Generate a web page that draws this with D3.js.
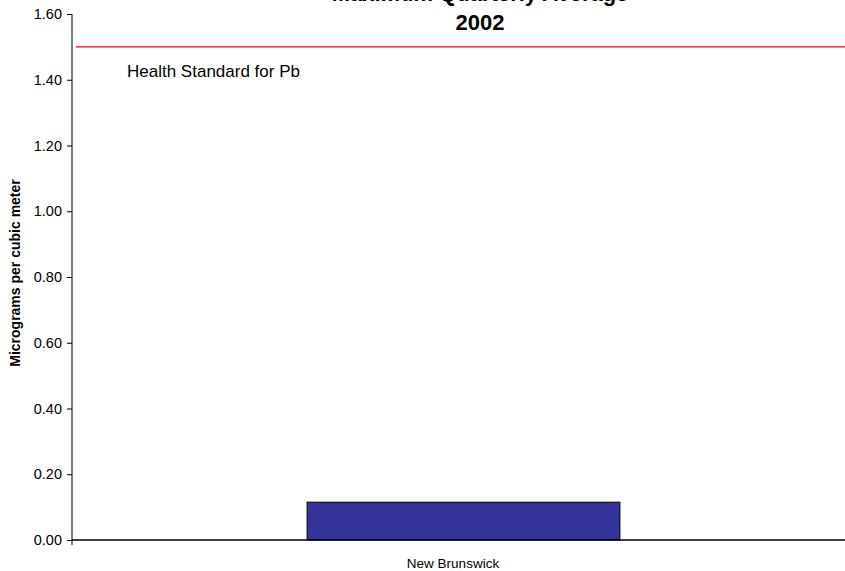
<!DOCTYPE html>
<html><head><meta charset="utf-8">
<script src="https://cdn.jsdelivr.net/npm/d3@7"></script>
<style>body{margin:0;background:#fff}svg{display:block}text{font-family:"Liberation Sans",Arial,sans-serif}</style>
</head><body><svg id="c" width="845" height="571"></svg>
<script>
const categories = ["New Brunswick"];
const values = [0.115];
const standardValue = 1.5;
const yTicks = [0,0.2,0.4,0.6,0.8,1.0,1.2,1.4,1.6];

const svg = d3.select("#c");
const m = {left:72, right:854, top:14, bottom:540};
const x = d3.scaleBand().domain(categories).range([m.left, m.right]).paddingInner(0.6).paddingOuter(0.3);
const y = d3.scaleLinear().domain([0,1.6]).range([m.bottom, m.top]);

// bar
svg.selectAll("rect.bar").data(values).enter().append("rect")
  .attr("x",(d,i)=>x(categories[i])+0.5).attr("width",x.bandwidth())
  .attr("y",d=>y(d)).attr("height",d=>y(0)-y(d))
  .attr("fill","#333399").attr("stroke","#000").attr("stroke-width",1);

// standard line
svg.append("line").attr("x1",76).attr("x2",845)
  .attr("y1",y(standardValue)).attr("y2",y(standardValue))
  .attr("stroke","#ff0000").attr("stroke-width",1.2);
svg.append("text").attr("x",127).attr("y",77).attr("font-size",17).text("Health Standard for Pb");

// y axis
const ya = svg.append("g").attr("transform",`translate(${m.left},0)`)
  .call(d3.axisLeft(y).tickValues(yTicks).tickFormat(d3.format(".2f")).tickSize(5).tickPadding(5));
ya.select(".domain").attr("stroke","#000").attr("d",`M0,${m.top}V${m.bottom}`);
ya.selectAll("text").attr("font-size",14.5).attr("fill","#000").attr("font-family","Liberation Sans, Arial, sans-serif");
ya.selectAll("line").attr("stroke","#000");

// x axis
const xa = svg.append("g").attr("transform",`translate(0,${m.bottom})`)
  .call(d3.axisBottom(x).tickSize(0).tickPadding(0));
xa.select(".domain").attr("stroke","#000").attr("stroke-width",1.5).attr("d",`M${m.left},0H${m.right}`);
xa.selectAll("text").attr("font-size",13.5).attr("fill","#000").attr("font-family","Liberation Sans, Arial, sans-serif")
  .attr("dx",-10).attr("dy",null).attr("y",28);
svg.append("line").attr("x1",m.left).attr("x2",m.left).attr("y1",m.bottom).attr("y2",m.bottom+5).attr("stroke","#000");

// titles
svg.append("text").attr("x",480).attr("y",1).attr("text-anchor","middle").attr("font-size",22).attr("font-weight","bold").text("Maximum Quarterly Average");
svg.append("text").attr("x",480).attr("y",30).attr("text-anchor","middle").attr("font-size",22).attr("font-weight","bold").text("2002");
svg.append("text").attr("transform","translate(20,273) rotate(-90)").attr("text-anchor","middle").attr("font-size",14).attr("font-weight","bold").text("Micrograms per cubic meter");
</script></body></html>
